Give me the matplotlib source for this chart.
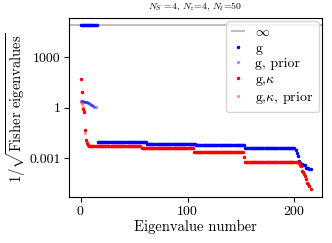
import numpy as np
import matplotlib
matplotlib.use('Agg')
import matplotlib.pyplot as plt
from matplotlib.ticker import FuncFormatter, NullLocator

# serif look like the LaTeX original
plt.rcParams['font.family'] = 'serif'
plt.rcParams['font.serif'] = ['cmr10']
plt.rcParams['mathtext.fontset'] = 'cm'
plt.rcParams['axes.formatter.use_mathtext'] = True

# value used to draw the infinite eigenvalues
inf_value = 8e4

# g : first eigenvalues are infinite, then plateaus, then a short tail
g_inf_count = 16
g_levels = [0.0087, 0.0066, 0.0058, 0.0039]
g_level_counts = [46, 46, 46, 47]
g_tail = [0.0032, 0.0020, 0.0013, 0.00063, 0.0005, 0.00045, 0.00043, 0.0004,
          0.00038, 0.00036, 0.00027, 0.00025, 0.00024, 0.00023, 0.00022]

# g, prior
g_prior = [2.35, 2.33, 2.3, 2.26, 2.2, 2.12, 2.02, 1.9, 1.78, 1.65, 1.5,
           1.36, 1.22, 1.1, 1.03]

# g,kappa
gk_head = [51, 8.4, 0.87, 0.56, 0.046, 0.0115, 0.0078, 0.0060]
gk_levels = [0.0055, 0.0042, 0.0024, 0.0011, 0.00055]
gk_level_counts = [49, 49, 47, 1, 50]
gk_tail = [0.00048, 0.00040, 0.00035, 0.00018, 0.00015, 0.00012, 8e-5,
           5.5e-5, 3.2e-5, 2.8e-5, 2.2e-5, 1.5e-5]

# g,kappa, prior
gk_prior = [2.0, 1.6, 1.1, 0.6, 0.03]

g = np.concatenate([[inf_value] * g_inf_count,
                    np.repeat(g_levels, g_level_counts), g_tail])
gk = np.concatenate([gk_head, np.repeat(gk_levels, gk_level_counts), gk_tail])

fig = plt.figure(figsize=(3.32, 2.43), dpi=100)
ax = fig.add_axes([0.208, 0.189, 0.762, 0.737])

ax.axhline(inf_value, color='gray', alpha=0.5, lw=1.5, label=r'$\infty$')
ax.plot(np.arange(len(g)), g, '.', color='b', ms=3, label='g')
ax.plot(np.arange(len(g_prior)), g_prior, '.', color='b', alpha=0.3, ms=3,
        label='g, prior')
ax.plot(np.arange(len(gk)), gk, '.', color='r', ms=3, label=r'g,$\kappa$')
ax.plot(np.arange(len(gk_prior)), gk_prior, '.', color='r', alpha=0.3, ms=3,
        label=r'g,$\kappa$, prior')

ax.set_yscale('log')
ax.set_ylim(10**-5.32, 10**5.32)
ax.set_yticks([1e-3, 1, 1e3])
ax.yaxis.set_minor_locator(NullLocator())
ax.yaxis.set_major_formatter(FuncFormatter(lambda v, p: '{:g}'.format(v)))
ax.set_xticks([0, 100, 200])
ax.tick_params(labelsize=10, pad=2.5)

ax.set_xlabel('Eigenvalue number', fontsize=10.5, labelpad=1)
ax.set_ylabel(r'$1/\sqrt{\mathrm{Fisher\ eigenvalues}}$', fontsize=10.5,
              labelpad=1)
ax.set_title(r'$N_S$ =4, $N_z$=4, $N_\ell$=50', fontsize=7)

ax.legend(loc='upper right', fontsize=10, handlelength=0.9,
          borderaxespad=0.2, labelspacing=0.2, handletextpad=0.8)

fig.savefig('out.png', dpi=100)
